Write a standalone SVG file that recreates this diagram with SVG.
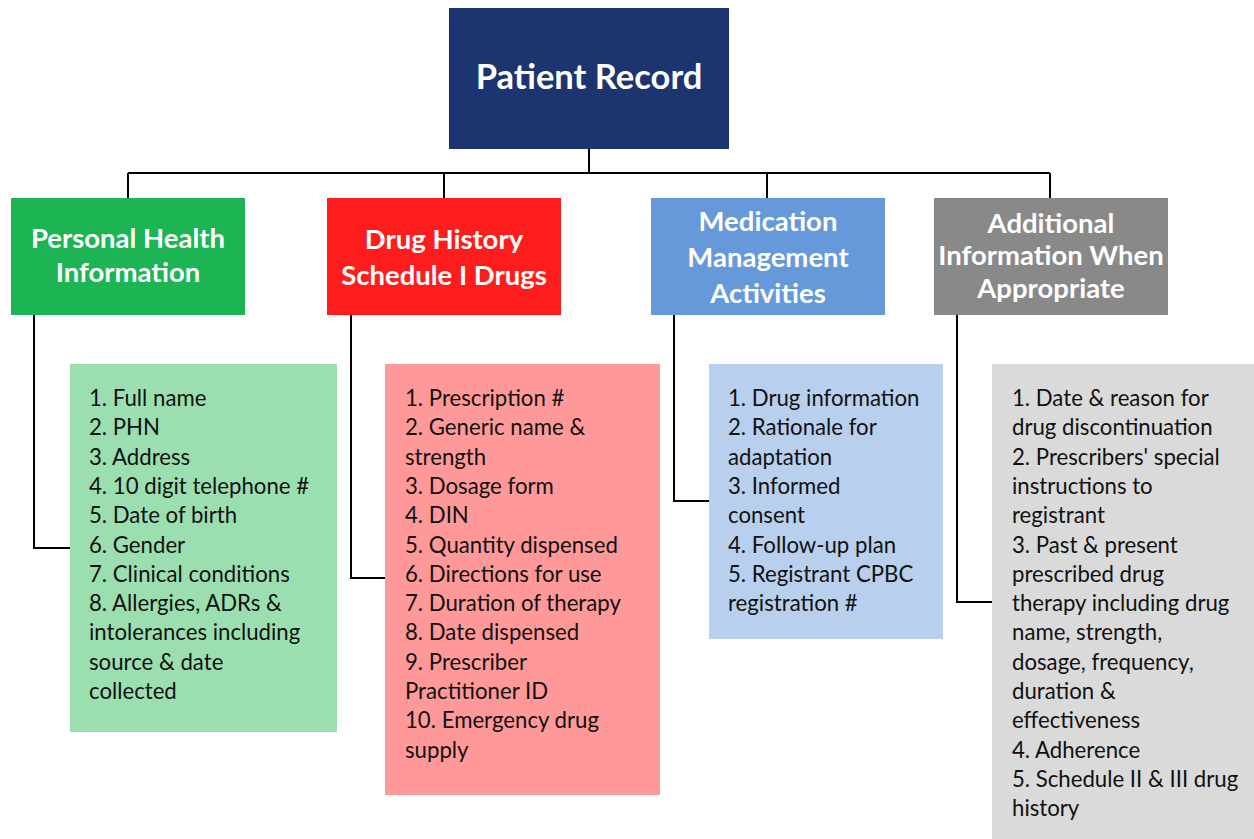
<svg xmlns="http://www.w3.org/2000/svg" width="1254" height="839" viewBox="0 0 1254 839">
<style>
.hdr{font-family:Lato,"Liberation Sans",sans-serif;font-weight:bold;fill:#ffffff;text-anchor:middle}
.h{font-size:27.5px}
.t{font-size:34.5px}
.lst{font-family:Lato,"Liberation Sans",sans-serif;font-size:22.2px;fill:#111111}
.con{fill:none;stroke:#000000;stroke-width:2}
</style>
<rect x="0" y="0" width="1254" height="839" fill="#ffffff"/>
<g id="connectors">
<path class="con" d="M589,149 V173 M128,173 H1050 M128,173 V198 M444,173 V198 M767,173 V198 M1050,173 V198"/>
<path class="con" d="M34,315 V548 H70"/>
<path class="con" d="M351,315 V578 H385"/>
<path class="con" d="M674,315 V501 H709"/>
<path class="con" d="M957,315 V602 H992"/>
</g>
<g id="patient-record">
<rect x="449" y="8" width="280" height="141" fill="#1C3571"/>
<text class="hdr t" x="589" y="89">Patient Record</text>
</g>
<g id="personal-health">
<rect x="11" y="198" width="234" height="117" fill="#1DB554"/>
<text class="hdr h" x="128" y="248">Personal Health</text>
<text class="hdr h" x="128" y="282">Information</text>
</g>
<g id="drug-history">
<rect x="327" y="198" width="234" height="117" fill="#FF1C1C"/>
<text class="hdr h" x="444" y="249">Drug History</text>
<text class="hdr h" x="444" y="285">Schedule I Drugs</text>
</g>
<g id="medication-management">
<rect x="651" y="198" width="234" height="117" fill="#6699D9"/>
<text class="hdr h" x="768" y="231">Medication</text>
<text class="hdr h" x="768" y="267">Management</text>
<text class="hdr h" x="768" y="303">Activities</text>
</g>
<g id="additional-information">
<rect x="934" y="198" width="234" height="117" fill="#898989"/>
<text class="hdr h" x="1051" y="233">Additional</text>
<text class="hdr h" x="1051" y="265">Information When</text>
<text class="hdr h" x="1051" y="298">Appropriate</text>
</g>
<g id="personal-health-list">
<rect x="70" y="364" width="267" height="368" fill="#9BDFB1"/>
<text class="lst" x="89" y="406"><tspan x="89">1. Full name</tspan><tspan x="89" dy="29.3">2. PHN</tspan><tspan x="89" dy="29.3">3. Address</tspan><tspan x="89" dy="29.3">4. 10 digit telephone #</tspan><tspan x="89" dy="29.3">5. Date of birth</tspan><tspan x="89" dy="29.3">6. Gender</tspan><tspan x="89" dy="29.3">7. Clinical conditions</tspan><tspan x="89" dy="29.3">8. Allergies, ADRs &amp;</tspan><tspan x="89" dy="29.3">intolerances including</tspan><tspan x="89" dy="29.3">source &amp; date</tspan><tspan x="89" dy="29.3">collected</tspan></text>
</g>
<g id="drug-history-list">
<rect x="385" y="364" width="275" height="431" fill="#FF9999"/>
<text class="lst" x="405" y="406"><tspan x="405">1. Prescription #</tspan><tspan x="405" dy="29.3">2. Generic name &amp;</tspan><tspan x="405" dy="29.3">strength</tspan><tspan x="405" dy="29.3">3. Dosage form</tspan><tspan x="405" dy="29.3">4. DIN</tspan><tspan x="405" dy="29.3">5. Quantity dispensed</tspan><tspan x="405" dy="29.3">6. Directions for use</tspan><tspan x="405" dy="29.3">7. Duration of therapy</tspan><tspan x="405" dy="29.3">8. Date dispensed</tspan><tspan x="405" dy="29.3">9. Prescriber</tspan><tspan x="405" dy="29.3">Practitioner ID</tspan><tspan x="405" dy="29.3">10. Emergency drug</tspan><tspan x="405" dy="29.3">supply</tspan></text>
</g>
<g id="medication-management-list">
<rect x="709" y="364" width="234" height="275" fill="#B8CFEE"/>
<text class="lst" x="728" y="406"><tspan x="728">1. Drug information</tspan><tspan x="728" dy="29.3">2. Rationale for</tspan><tspan x="728" dy="29.3">adaptation</tspan><tspan x="728" dy="29.3">3. Informed</tspan><tspan x="728" dy="29.3">consent</tspan><tspan x="728" dy="29.3">4. Follow-up plan</tspan><tspan x="728" dy="29.3">5. Registrant CPBC</tspan><tspan x="728" dy="29.3">registration #</tspan></text>
</g>
<g id="additional-information-list">
<rect x="992" y="364" width="262" height="475" fill="#DADADA"/>
<text class="lst" x="1012" y="406"><tspan x="1012">1. Date &amp; reason for</tspan><tspan x="1012" dy="29.3">drug discontinuation</tspan><tspan x="1012" dy="29.3">2. Prescribers' special</tspan><tspan x="1012" dy="29.3">instructions to</tspan><tspan x="1012" dy="29.3">registrant</tspan><tspan x="1012" dy="29.3">3. Past &amp; present</tspan><tspan x="1012" dy="29.3">prescribed drug</tspan><tspan x="1012" dy="29.3">therapy including drug</tspan><tspan x="1012" dy="29.3">name, strength,</tspan><tspan x="1012" dy="29.3">dosage, frequency,</tspan><tspan x="1012" dy="29.3">duration &amp;</tspan><tspan x="1012" dy="29.3">effectiveness</tspan><tspan x="1012" dy="29.3">4. Adherence</tspan><tspan x="1012" dy="29.3">5. Schedule II &amp; III drug</tspan><tspan x="1012" dy="29.3">history</tspan></text>
</g>
</svg>
